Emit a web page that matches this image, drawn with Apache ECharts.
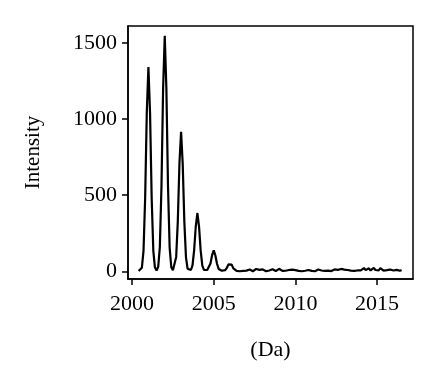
<!DOCTYPE html>
<html>
<head>
<meta charset="utf-8">
<script src="https://cdn.jsdelivr.net/npm/echarts@6/dist/echarts.min.js"></script>
<style>
  html, body { margin: 0; padding: 0; background: #fff; }
  #chart { width: 440px; height: 386px; }
</style>
</head>
<body>
<div id="chart"></div>
<script>
// mass axis: first point and spacing (Da)
var massStart = 2000.4;
var massStep = 0.1;

// intensity, one value per 0.1 Da
var peakIntensity = [
  2,                                                   // 2000.4
  4, 24, 135, 480, 1040, 1340, 1040, 480, 135, 25,     // 2000.5 - 2001.4
  6, 30, 160, 560, 1200, 1545, 1200, 555, 155, 28,     // 2001.5 - 2002.4
  8, 18, 95, 330, 710, 915, 705, 325, 92, 17,          // 2002.5 - 2003.4
  6, 9, 40, 140, 296, 383, 294, 136, 38, 10,           // 2003.5 - 2004.4
  12, 9, 16, 52, 107, 138, 104, 50, 16, 6,             // 2004.5 - 2005.4
  4, 5, 8, 22, 46, 58, 44, 20, 8, 3                    // 2005.5 - 2006.4
];
var noiseIntensity = [
  7, 1, 11, 3, 14, 5, 2, 12, 6, 1,                     // 2006.5 -
  9, 16, 4, 10, 2, 13, 5, 1, 12, 6,
  3, 14, 7, 2, 10, 17, 5, 3, 13, 4,
  1, 9, 5, 12, 2, 8, 14, 3, 7, 1,
  10, 4, 2, 9, 13, 3, 8, 1, 7, 12,
  2, 6, 11, 3, 14, 5, 9, 2, 8, 13,
  4, 10, 3, 16, 5, 12, 2, 9, 14, 5,
  10, 3, 13, 6, 18, 7, 4, 22, 8, 16,
  20, 6, 14, 23, 9, 19, 7, 21, 12, 5,
  17, 8, 3, 12, 20, 6, 2, 10, 5, 4,
  9                                                    // - 2016.5
];

var xTicks = [2000, 2005, 2010, 2015];
var yTicks = [0, 500, 1000, 1500];

var intensity = peakIntensity.concat(noiseIntensity);
var points = intensity.map(function (v, i) {
  return [+(massStart + i * massStep).toFixed(1), v];
});

var font = '"Liberation Serif", "DejaVu Serif", serif';
var chart = echarts.init(document.getElementById('chart'));
chart.setOption({
  animation: false,
  grid: {
    left: 128, right: 27, top: 26, bottom: 107,
    show: true, borderColor: '#000', borderWidth: 1.5
  },
  xAxis: {
    type: 'value',
    min: 1999.75, max: 2017.2,
    name: '(Da)',
    nameLocation: 'middle',
    nameGap: 60,
    nameTextStyle: { color: '#000', fontFamily: font, fontSize: 22 },
    splitLine: { show: false },
    axisLine: { show: true, onZero: false, lineStyle: { color: '#000', width: 1.5 } },
    axisTick: { show: true, length: 6, customValues: xTicks, lineStyle: { color: '#000', width: 1.5 } },
    axisLabel: {
      customValues: xTicks, color: '#000', fontFamily: font, fontSize: 22, margin: 14,
      formatter: function (v) { return String(v); }
    }
  },
  yAxis: {
    type: 'value',
    min: -50, max: 1610,
    name: 'Intensity',
    nameLocation: 'middle',
    nameGap: 84,
    nameTextStyle: { color: '#000', fontFamily: font, fontSize: 21 },
    splitLine: { show: false },
    axisLine: { show: true, onZero: false, lineStyle: { color: '#000', width: 1.5 } },
    axisTick: { show: true, length: 6, customValues: yTicks, lineStyle: { color: '#000', width: 1.5 } },
    axisLabel: {
      customValues: yTicks, color: '#000', fontFamily: font, fontSize: 22, margin: 11,
      formatter: function (v) { return String(v); }
    }
  },
  series: [{
    type: 'line',
    data: points,
    showSymbol: false,
    lineStyle: { color: '#000', width: 2.2 }
  }]
});
</script>
</body>
</html>
